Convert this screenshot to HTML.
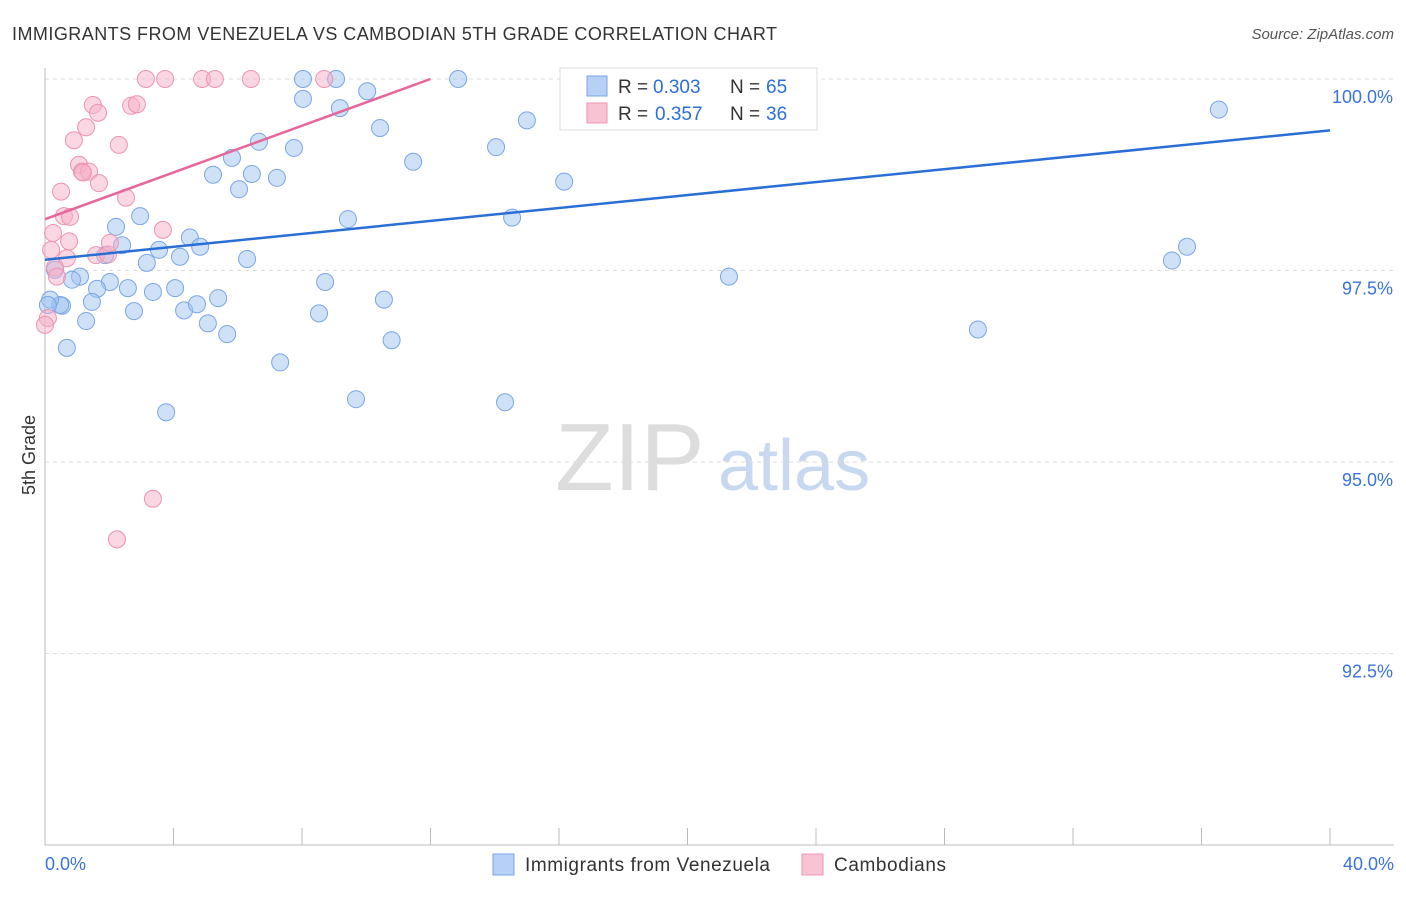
<!DOCTYPE html>
<html><head><meta charset="utf-8"><style>
body{margin:0;background:#fff;font-family:"Liberation Sans",sans-serif;}
svg text{font-family:"Liberation Sans",sans-serif;}
</style></head><body>
<svg id="chart" width="1406" height="892">
<text x="12" y="40" font-size="18" fill="#333" textLength="765" lengthAdjust="spacing">IMMIGRANTS FROM VENEZUELA VS CAMBODIAN 5TH GRADE CORRELATION CHART</text>
<text x="1394" y="39" font-size="15" fill="#555" text-anchor="end" font-style="italic">Source: ZipAtlas.com</text>
<text x="35" y="455" font-size="18" fill="#333" transform="rotate(-90 35 455)" text-anchor="middle">5th Grade</text>
<text x="555" y="490" font-size="96" fill="#ddd" font-family="Liberation Serif">ZIP</text>
<text x="718" y="490" font-size="72" fill="#c8d8f0">atlas</text>
<g id="grid"></g><g id="pts"></g><g id="lines"></g>
<g>
<rect x="560" y="68" width="257" height="62" fill="#fff" stroke="#ddd"/>
<rect x="587" y="76" width="20" height="20" fill="#b7d0f5" stroke="#7aa6e6"/>
<text x="618" y="93" font-size="19" fill="#333">R =</text>
<text x="653" y="93" font-size="19" fill="#2d6fd6">0.303</text>
<text x="730" y="93" font-size="19" fill="#333">N =</text>
<text x="766" y="93" font-size="19" fill="#2d6fd6">65</text>
<rect x="587" y="103" width="20" height="20" fill="#f8c4d4" stroke="#ee94b0"/>
<text x="618" y="120" font-size="19" fill="#333">R =</text>
<text x="655" y="120" font-size="19" fill="#2d6fd6">0.357</text>
<text x="730" y="120" font-size="19" fill="#333">N =</text>
<text x="766" y="120" font-size="19" fill="#2d6fd6">36</text>
</g>
<g>
<rect x="493" y="854" width="21" height="21" fill="#b7d0f5" stroke="#7aa6e6"/>
<text x="525" y="871" font-size="19" fill="#333" textLength="245">Immigrants from Venezuela</text>
<rect x="802" y="854" width="21" height="21" fill="#f8c4d4" stroke="#ee94b0"/>
<text x="834" y="871" font-size="19" fill="#333" textLength="112">Cambodians</text>
</g>
</svg>
<script>
const yTicks=[100,97.5,95,92.5];
const yTickLabels=["100.0%","97.5%","95.0%","92.5%"];
const xTickLabels=["0.0%","40.0%"];
const blueX=[8.03,9.06,12.86,17.28,21.95,8.03,9.18,10.03,10.43,15.0,14.04,11.46,7.75,6.66,5.82,5.23,6.04,6.44,7.22,16.16,36.54,9.43,14.54,2.96,2.21,2.4,1.87,4.51,4.83,3.55,4.2,3.17,6.29,35.55,35.08,21.29,8.72,1.09,0.84,0.31,2.02,1.62,2.58,3.36,4.05,1.46,0.53,0.47,0.16,2.77,4.33,4.73,5.39,10.55,8.53,5.07,1.28,5.67,10.79,29.04,0.68,7.32,9.68,14.32,3.77,0.09];
const blueY=[100,100,100,100,100,99.74,99.62,99.84,99.36,99.46,99.11,98.92,99.1,99.18,98.97,98.75,98.56,98.76,98.71,98.66,99.6,98.17,98.19,98.21,98.07,97.83,97.7,97.93,97.81,97.77,97.68,97.6,97.65,97.81,97.63,97.42,97.35,97.42,97.38,97.51,97.35,97.26,97.27,97.22,97.27,97.09,97.04,97.05,97.12,96.97,96.98,97.06,97.14,97.12,96.94,96.81,96.84,96.67,96.59,96.73,96.49,96.3,95.82,95.78,95.65,97.05];
const pinkX=[3.14,3.74,4.89,5.29,6.41,8.69,1.49,1.65,2.68,2.86,1.28,0.9,2.3,1.06,1.15,1.37,1.68,0.5,2.52,0.59,0.78,3.67,0.25,0.75,0.19,1.59,1.96,2.02,0.68,0.31,0.37,0.09,0,3.36,2.24,1.18];
const pinkY=[100,100,100,100,100,100,99.66,99.56,99.65,99.67,99.37,99.2,99.14,98.88,98.79,98.79,98.64,98.53,98.45,98.21,98.2,98.03,97.99,97.88,97.77,97.7,97.71,97.86,97.66,97.54,97.42,96.88,96.79,94.52,93.99,98.78];
const blueTrend=[[0,97.64],[40,99.33]];
const pinkTrend=[[0,98.17],[12,100]];
const X=v=>45+v*32.125, Y=v=>79+(100-v)*76.6;
const ns="http://www.w3.org/2000/svg";
function mk(t,a,p){const e=document.createElementNS(ns,t);for(const k in a)e.setAttribute(k,a[k]);p.appendChild(e);return e;}
const grid=document.getElementById('grid');
yTicks.forEach((t,i)=>{
 const l=mk('line',{x1:45,x2:1394,y1:Y(t),y2:Y(t),stroke:'#ddd','stroke-dasharray':'4 4'},grid);
 
 
 const tx=mk('text',{x:1393,y:Y(t)+24,'font-size':18,fill:'#3b73d9','text-anchor':'end'},grid);tx.textContent=yTickLabels[i];
 
 
});
mk('line',{x1:45,x2:45,y1:68,y2:845,stroke:'#bbb'},grid);
mk('line',{x1:45,x2:1394,y1:845,y2:845,stroke:'#bbb'},grid);
for(let i=0;i<=10;i++){mk('line',{x1:X(i*4),x2:X(i*4),y1:828,y2:845,stroke:'#bbb'},grid);}
[[0,'start',45],[1,'end',1394]].forEach(([i,a,x])=>{const t=mk('text',{x:x,y:870,'font-size':18,fill:'#3b73d9','text-anchor':a},grid);t.textContent=xTickLabels[i];
 
 });
const pts=document.getElementById('pts');
blueX.forEach((x,i)=>{const c=mk('circle',{cx:X(x),cy:Y(blueY[i]),r:8.5,fill:'rgba(160,195,240,0.5)',stroke:'#7aa6e6','stroke-width':1},pts);
 
 });
pinkX.forEach((x,i)=>{const c=mk('circle',{cx:X(x),cy:Y(pinkY[i]),r:8.5,fill:'rgba(245,175,200,0.5)',stroke:'#ee94b0','stroke-width':1},pts);
 
 });
const lines=document.getElementById('lines');
const bl=mk('line',{x1:X(blueTrend[0][0]),y1:Y(blueTrend[0][1]),x2:X(blueTrend[1][0]),y2:Y(blueTrend[1][1]),stroke:'#2a6fd6','stroke-width':2.5},lines);


const pl=mk('line',{x1:X(pinkTrend[0][0]),y1:Y(pinkTrend[0][1]),x2:X(pinkTrend[1][0]),y2:Y(pinkTrend[1][1]),stroke:'#e8679a','stroke-width':2.5},lines);


</script>
</body></html>
